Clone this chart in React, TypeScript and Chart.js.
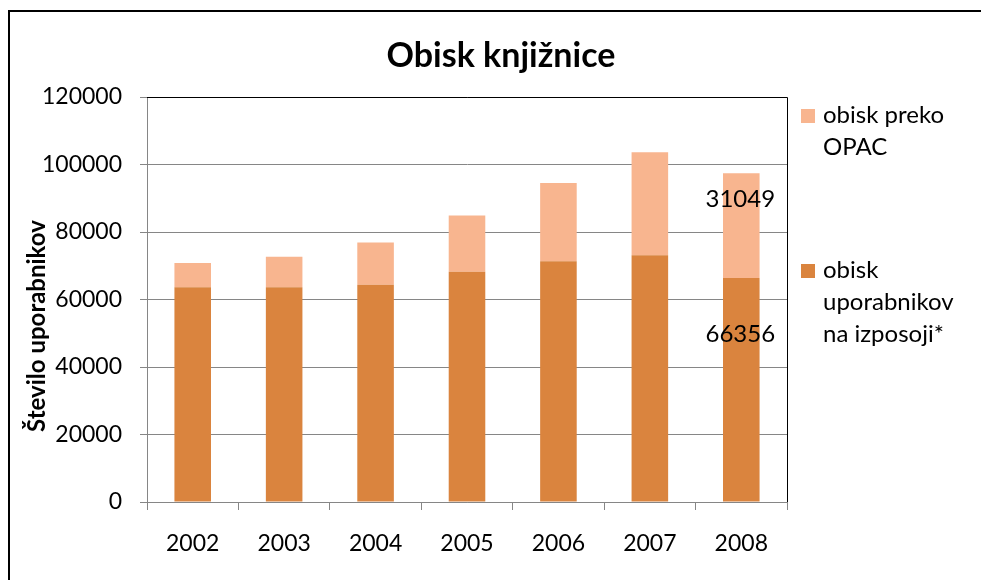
import React, { useEffect, useRef } from "react";
import { Chart, registerables } from "chart.js";

Chart.register(...registerables);

const years = ["2002", "2003", "2004", "2005", "2006", "2007", "2008"];
const izposoja = [63600, 63600, 64400, 68200, 71300, 73100, 66356];
const opac = [7200, 9100, 12500, 16700, 23200, 30500, 31049];
const yMax = 120000;
const yStep = 20000;
const chartTitle = "Obisk knjižnice";
const yTitle = "Število uporabnikov";
const izposojaName = "obisk uporabnikov na izposoji*";
const opacName = "obisk preko OPAC";
const izposojaLegendLines = ["obisk", "uporabnikov", "na izposoji*"];
const opacLegendLines = ["obisk preko", "OPAC"];
const labelledIndex = 6;

const ORANGE = "#DA843E";
const SALMON = "#F8B58F";
const GRID = "#868686";
const FONT = "Lato";

const overlayPlugin = {
  id: "overlay",
  afterDraw(chart: any) {
    const ctx = chart.ctx as CanvasRenderingContext2D;
    const area = chart.chartArea;
    const y = chart.scales.y;
    ctx.save();

    // plot area border (top & right)
    ctx.strokeStyle = "#000";
    ctx.lineWidth = 1;
    ctx.beginPath();
    ctx.moveTo(area.left, Math.round(area.top) + 0.5);
    ctx.lineTo(Math.round(area.right) + 0.5, Math.round(area.top) + 0.5);
    ctx.lineTo(Math.round(area.right) + 0.5, area.bottom);
    ctx.stroke();

    ctx.fillStyle = "#000";
    // title
    ctx.font = `bold 34px ${FONT}`;
    ctx.textAlign = "center";
    ctx.textBaseline = "alphabetic";
    ctx.fillText(chartTitle, 501, 67);

    // y title
    ctx.save();
    ctx.translate(37, 326);
    ctx.rotate(-Math.PI / 2);
    ctx.font = `bold 24px ${FONT}`;
    ctx.textAlign = "center";
    ctx.textBaseline = "middle";
    ctx.fillText(yTitle, 0, 0);
    ctx.restore();

    // legend
    const legendItems = [
      { color: SALMON, lines: opacLegendLines, top: 109 },
      { color: ORANGE, lines: izposojaLegendLines, top: 264 },
    ];
    ctx.font = `24px ${FONT}`;
    ctx.textAlign = "left";
    ctx.textBaseline = "alphabetic";
    legendItems.forEach((it) => {
      ctx.fillStyle = it.color;
      ctx.fillRect(801, it.top, 14, 14);
      ctx.fillStyle = "#000";
      it.lines.forEach((ln, i) => {
        ctx.fillText(ln, 823, it.top + 14 + i * 32);
      });
    });

    // data labels on the last category
    ctx.font = `24px ${FONT}`;
    ctx.textAlign = "center";
    ctx.textBaseline = "middle";
    const bar0 = chart.getDatasetMeta(0).data[labelledIndex];
    const bar1 = chart.getDatasetMeta(1).data[labelledIndex];
    const v0 = izposoja[labelledIndex];
    const v1 = opac[labelledIndex];
    ctx.fillStyle = "#000";
    ctx.fillText(String(v1), bar1.x - 1, y.getPixelForValue(v0 + v1 - 0.25 * v1));
    ctx.fillText(String(v0), bar0.x - 1, y.getPixelForValue(v0 - 0.25 * v0));

    ctx.restore();
  },
};

export default function App() {
  const ref = useRef<HTMLCanvasElement | null>(null);

  useEffect(() => {
    if (!ref.current) return;
    const chart = new Chart(ref.current, {
      type: "bar",
      data: {
        labels: years,
        datasets: [
          {
            label: izposojaName,
            data: izposoja,
            backgroundColor: ORANGE,
            barPercentage: 0.4,
            categoryPercentage: 1,
          },
          {
            label: opacName,
            data: opac,
            backgroundColor: SALMON,
            barPercentage: 0.4,
            categoryPercentage: 1,
          },
        ],
      },
      options: {
        animation: false,
        responsive: false,
        maintainAspectRatio: false,
        layout: { padding: { top: 97, right: 194, left: 0, bottom: 0 } },
        plugins: {
          legend: { display: false },
          title: { display: false },
          tooltip: { enabled: false },
        },
        scales: {
          x: {
            stacked: true,
            offset: true,
            grid: {
              display: true,
              drawOnChartArea: false,
              offset: true,
              color: GRID,
              tickLength: 8,
            },
            border: { display: true, color: GRID },
            ticks: {
              color: "#000",
              font: { family: FONT, size: 23 },
              padding: 20,
              maxRotation: 0,
            },
            afterFit: (s: any) => {
              s.height = 78;
            },
          },
          y: {
            stacked: true,
            min: 0,
            max: yMax,
            ticks: {
              stepSize: yStep,
              color: "#000",
              font: { family: FONT, size: 23 },
              padding: 18,
              callback: (v: any) => String(v),
            },
            grid: { color: GRID, tickLength: 7 },
            border: { display: true, color: GRID },
            afterFit: (s: any) => {
              s.width = 147;
            },
          },
        },
      },
      plugins: [overlayPlugin],
    });
    return () => chart.destroy();
  }, []);

  return (
    <div style={{ position: "fixed", left: 0, top: 0, width: 981, height: 580, background: "#fff", overflow: "hidden" }}>
      <canvas ref={ref} width={981} height={580} style={{ position: "absolute", left: 0, top: 0, width: 981, height: 580 }} />
      <div
        style={{
          position: "absolute",
          left: 8,
          top: 10,
          width: 1000,
          height: 600,
          borderLeft: "2px solid #000",
          borderTop: "2px solid #000",
          pointerEvents: "none",
        }}
      />
    </div>
  );
}
